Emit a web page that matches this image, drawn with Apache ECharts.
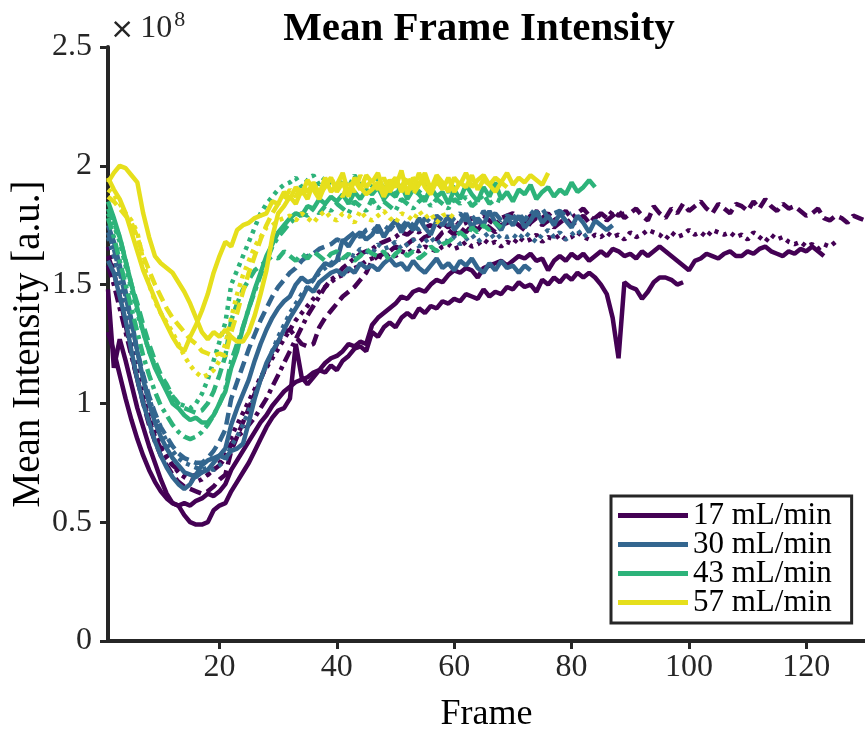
<!DOCTYPE html>
<html>
<head>
<meta charset="utf-8">
<script src="https://cdn.jsdelivr.net/npm/echarts@6/dist/echarts.min.js"></script>
<style>
html,body{margin:0;padding:0;background:#fff;}
#chart{width:865px;height:729px;}
</style>
</head>
<body>
<div id="chart"></div>
<script>
// ---------------- DATA (values in units of 1e8, frame = index + 1) ----------------
const legendNames = ['17 mL/min', '30 mL/min', '43 mL/min', '57 mL/min'];
const xTickValues = [20, 40, 60, 80, 100, 120];
const yTickValues = [0, 0.5, 1, 1.5, 2, 2.5];

// 17 mL/min
const p17_solidA = [1.48,1.15,1.27,1.18,1.08,0.98,0.90,0.82,0.75,0.68,
 0.62,0.58,0.57,0.53,0.50,0.49,0.49,0.50,0.55,0.57,
 0.58,0.63,0.67,0.71,0.75,0.80,0.85,0.90,0.94,
 0.97,0.98,1.02,1.25,1.11,1.08,1.11,1.14,1.13,1.16,
 1.14,1.18,1.20,1.23,1.24,1.22,1.30,1.28,1.32,
 1.34,1.32,1.36,1.38,1.36,1.40,1.38,1.41,1.40,1.43,
 1.42,1.44,1.43,1.46,1.45,1.44,1.48,1.45,1.47,1.46,
 1.49,1.48,1.51,1.49,1.50,1.47,1.52,1.50,1.53,
 1.51,1.54,1.52,1.55,1.53,1.55,1.53,1.50,1.46,1.36,
 1.19,1.51,1.49,1.48,1.44,1.47,1.51,1.53,1.53,
 1.52,1.50,1.51];
const p17_solidB = [1.30,1.22,1.12,1.02,0.93,0.85,0.78,0.72,0.67,0.63,
 0.60,0.58,0.57,0.58,0.57,0.59,0.60,0.62,0.61,0.63,
 0.66,0.72,0.76,0.80,0.84,0.88,0.92,0.95,0.99,
 1.02,1.05,1.07,1.09,1.10,1.11,1.13,1.14,1.17,1.19,
 1.20,1.22,1.25,1.24,1.26,1.25,1.33,1.36,1.38,
 1.40,1.42,1.45,1.44,1.47,1.48,1.47,1.50,1.52,1.51,
 1.54,1.56,1.55,1.57,1.56,1.53,1.57,1.58,1.59,1.60,
 1.58,1.60,1.62,1.61,1.63,1.60,1.61,1.56,1.60,
 1.62,1.60,1.63,1.61,1.63,1.60,1.62,1.64,1.62,1.65,
 1.64,1.62,1.63,1.61,1.64,1.62,1.64,1.66,1.64,
 1.62,1.60,1.58,1.56,1.60,1.61,1.63,1.62,1.61,1.63,
 1.64,1.62,1.62,1.64,1.63,1.65,1.66,1.64,1.63,1.62,
 1.64,1.63,1.65,1.64,1.66,1.64,1.62];
const p17_dashed = [1.62,1.55,1.45,1.33,1.21,1.10,1.00,0.91,0.84,0.78,
 0.74,0.70,0.67,0.65,0.64,0.63,0.62,0.63,0.65,0.68,
 0.70,0.80,0.86,0.92,0.98,1.04,1.10,1.16,1.21,
 1.26,1.30,1.31,1.28,1.25,1.24,1.25,1.32,1.36,1.39,
 1.42,1.45,1.47,1.49,1.52,1.55,1.60,1.62,1.63,
 1.64,1.66,1.65,1.67,1.69,1.68,1.70,1.71,1.69,1.72,
 1.73,1.71,1.74,1.72,1.75,1.73,1.76,1.74,1.72,1.75,
 1.76,1.77,1.75,1.73,1.76,1.78,1.75,1.77,1.74,
 1.76,1.78,1.75,1.77,1.79,1.76,1.78,1.80,1.77,1.79,
 1.81,1.78,1.80,1.82,1.79,1.77,1.83,1.80,1.78,
 1.82,1.80,1.84,1.81,1.83,1.85,1.82,1.80,1.84,1.82,
 1.80,1.84,1.83,1.81,1.85,1.82,1.86,1.83,1.81,1.84,
 1.82,1.83,1.81,1.79,1.80,1.82,1.78,1.77,1.79,
 1.78,1.76,1.79,1.78,1.77];
const p17_dotted = [1.66,1.58,1.48,1.37,1.26,1.15,1.05,0.97,0.89,0.83,
 0.78,0.74,0.71,0.69,0.68,0.67,0.68,0.70,0.72,0.75,
 0.78,0.86,0.91,0.96,1.01,1.06,1.11,1.15,1.19,
 1.23,1.27,1.31,1.35,1.38,1.41,1.44,1.47,1.49,1.51,
 1.53,1.54,1.56,1.57,1.58,1.60,1.61,1.62,1.61,
 1.63,1.62,1.64,1.63,1.65,1.64,1.66,1.65,1.64,1.66,
 1.67,1.65,1.66,1.68,1.66,1.67,1.69,1.67,1.68,1.66,
 1.68,1.67,1.70,1.68,1.69,1.71,1.68,1.70,1.69,
 1.71,1.69,1.70,1.72,1.70,1.69,1.71,1.70,1.72,1.70,
 1.71,1.69,1.72,1.70,1.71,1.73,1.72,1.71,1.69,
 1.72,1.70,1.71,1.73,1.71,1.72,1.70,1.73,1.72,1.71,
 1.72,1.70,1.71,1.69,1.72,1.70,1.68,1.71,1.69,1.70,
 1.68,1.67,1.68,1.66,1.67,1.65,1.67,1.66,1.68];
const p17_dashdot = [1.58,1.50,1.40,1.30,1.20,1.10,1.01,0.93,0.86,0.81,
 0.77,0.74,0.72,0.70,0.69,0.70,0.71,0.70,0.72,0.74,
 0.77,0.83,0.86,0.88,0.91,0.94,0.98,1.02,1.07,
 1.12,1.17,1.22,1.27,1.32,1.37,1.41,1.45,1.49,1.52,
 1.54,1.57,1.59,1.61,1.63,1.64,1.65,1.67,1.68,
 1.69,1.70,1.72,1.71,1.73,1.72,1.74,1.75,1.73,1.76,
 1.74,1.77,1.75,1.76,1.78,1.76,1.79,1.77,1.75,1.78,
 1.79,1.80,1.78,1.76,1.79,1.81,1.78,1.80,1.77,
 1.79,1.81,1.78,1.80,1.82,1.79,1.77,1.80,1.78,1.81,
 1.79,1.80];

// 30 mL/min
const b30_solidA = [1.60,1.55,1.45,1.35,1.22,1.10,1.00,0.92,0.84,0.78,
 0.73,0.69,0.66,0.64,0.66,0.70,0.74,0.76,0.77,0.78,
 0.77,0.80,0.81,0.83,0.92,1.02,1.10,1.17,1.22,
 1.26,1.31,1.36,1.40,1.44,1.49,1.47,1.51,1.53,1.55,
 1.56,1.54,1.57,1.55,1.59,1.57,1.58,1.56,1.59,
 1.61,1.58,1.59,1.56,1.60,1.57,1.55,1.58,1.61,1.57,
 1.59,1.56,1.60,1.58,1.61,1.57,1.55,1.59,1.56,1.60,
 1.57,1.58,1.55,1.58,1.56];
const b30_solidB = [1.75,1.68,1.58,1.47,1.35,1.22,1.10,1.00,0.92,0.86,
 0.81,0.77,0.74,0.71,0.70,0.69,0.71,0.72,0.75,0.78,
 0.81,0.91,0.98,1.04,1.10,1.18,1.25,1.31,1.36,
 1.40,1.43,1.45,1.50,1.53,1.51,1.52,1.56,1.59,1.58,
 1.60,1.69,1.66,1.70,1.72,1.69,1.71,1.75,1.70,
 1.74,1.77,1.72,1.76,1.73,1.78,1.74,1.71,1.77,1.75,
 1.79,1.73,1.76,1.80,1.74,1.78,1.75,1.81,1.76,1.73,
 1.78,1.75,1.79,1.74,1.77,1.81,1.76,1.79,1.75,
 1.80,1.77,1.74,1.79,1.76,1.72,1.77,1.75,1.73,1.75];
const b30_dotted = [1.70,1.62,1.52,1.42,1.32,1.20,1.10,1.02,0.95,0.89,
 0.84,0.80,0.77,0.75,0.74,0.73,0.72,0.73,0.72,0.74,
 0.76,0.82,0.86,0.91,0.97,1.03,1.10,1.16,1.22,
 1.28,1.33,1.38,1.42,1.46,1.49,1.52,1.55,1.57,1.59,
 1.61,1.60,1.63,1.62,1.65,1.64,1.63,1.67,1.65,
 1.66,1.68,1.65,1.67,1.69,1.66,1.68,1.70,1.67,1.69,
 1.68,1.70,1.67,1.69,1.71,1.68,1.70,1.72,1.69,1.71,
 1.70,1.71,1.69,1.72,1.70,1.68,1.71,1.73,1.70,
 1.72,1.69,1.71,1.73,1.70,1.72];
const b30_dashed = [1.72,1.65,1.55,1.45,1.34,1.22,1.12,1.03,0.96,0.90,
 0.86,0.82,0.79,0.77,0.76,0.75,0.75,0.77,0.80,0.84,
 0.89,1.02,1.09,1.16,1.23,1.29,1.35,1.40,1.45,
 1.49,1.52,1.55,1.57,1.60,1.62,1.63,1.65,1.66,1.67,
 1.69,1.68,1.70,1.72,1.70,1.73,1.74,1.72,1.75,
 1.73,1.76,1.74,1.77,1.75,1.73,1.78,1.76,1.79,1.77,
 1.75,1.78,1.80,1.77,1.79,1.76,1.81,1.78,1.80,1.77,
 1.79,1.78,1.80,1.77,1.81,1.79,1.82,1.78,1.80,
 1.81,1.79,1.80];

// 43 mL/min
const g43_solid = [1.85,1.78,1.70,1.60,1.50,1.40,1.30,1.22,1.15,1.10,
 1.05,1.00,0.98,0.95,0.93,0.94,0.92,0.92,0.95,1.00,
 1.05,1.15,1.22,1.32,1.40,1.48,1.55,1.62,1.67,
 1.72,1.75,1.78,1.80,1.79,1.83,1.82,1.86,1.84,1.87,
 1.85,1.88,1.84,1.89,1.86,1.90,1.88,1.91,1.86,
 1.89,1.87,1.92,1.86,1.90,1.88,1.85,1.91,1.87,1.89,
 1.84,1.90,1.86,1.92,1.88,1.85,1.91,1.87,1.93,1.86,
 1.89,1.85,1.90,1.88,1.92,1.86,1.89,1.91,1.87,
 1.90,1.88,1.93,1.89,1.91,1.94,1.91];
const g43_dashed = [1.82,1.76,1.70,1.60,1.50,1.42,1.33,1.25,1.18,1.12,
 1.08,1.03,1.00,0.98,0.97,0.96,0.97,1.00,1.05,1.12,
 1.20,1.35,1.42,1.48,1.52,1.56,1.58,1.60,1.62,
 1.61,1.64,1.62,1.60,1.63,1.61,1.64,1.62,1.60,1.63,
 1.64,1.61,1.63,1.60,1.62,1.65,1.63,1.62,1.64,
 1.60,1.63,1.65,1.62,1.64,1.61,1.63,1.66,1.64,1.67,
 1.68,1.70,1.72,1.70,1.74,1.72,1.75,1.73,1.76,1.74];
const g43_dotted = [1.80,1.75,1.68,1.58,1.48,1.38,1.30,1.22,1.16,1.10,
 1.06,1.03,1.00,0.99,0.98,1.00,1.04,1.10,1.18,1.26,
 1.34,1.50,1.56,1.62,1.68,1.74,1.80,1.84,1.87,
 1.90,1.92,1.93,1.95,1.91,1.94,1.96,1.92,1.95,1.93,
 1.90,1.94,1.91,1.96,1.92,1.89,1.91,1.95,1.90,
 1.93,1.88,1.92,1.90,1.94,1.89,1.92,1.90,1.87,1.91,
 1.89,1.92];
const g43_dashdot = [1.78,1.70,1.60,1.50,1.40,1.30,1.20,1.12,1.05,0.99,
 0.95,0.91,0.88,0.86,0.85,0.86,0.88,0.91,0.95,1.00,
 1.06,1.18,1.25,1.32,1.40,1.47,1.54,1.60,1.66,
 1.70,1.73,1.76,1.78,1.80,1.79,1.82,1.80,1.83,1.81,
 1.84,1.82,1.80,1.85,1.83,1.81,1.86,1.82,1.85,
 1.83,1.81,1.86,1.84,1.82,1.85,1.87,1.83,1.86,1.84,
 1.82,1.86,1.84,1.87,1.83,1.85,1.88,1.84,1.86,1.85];

// 57 mL/min
const y57_solidA = [1.93,1.97,2.00,1.99,1.96,1.93,1.80,1.70,1.62,1.59,
 1.57,1.55,1.51,1.47,1.42,1.36,1.30,1.27,1.30,1.28,
 1.31,1.28,1.26,1.26,1.30,1.37,1.46,1.56,1.70,
 1.80,1.83,1.87,1.84,1.90,1.86,1.93,1.88,1.95,1.89,
 1.92,1.97,1.88,1.94,1.90,1.96,1.93,1.97,1.89,
 1.94,1.91,1.98,1.88,1.95,1.92,1.97,1.90,1.96,1.93,
 1.89,1.95,1.92,1.97,1.91,1.94,1.96,1.92,1.95,1.93,
 1.97,1.92,1.95,1.93,1.96,1.94,1.92,1.97];
const y57_solidB = [1.95,1.90,1.86,1.80,1.72,1.64,1.56,1.50,1.44,1.38,
 1.33,1.28,1.24,1.22,1.28,1.33,1.39,1.46,1.55,1.62,
 1.68,1.66,1.73,1.75,1.76,1.78,1.79,1.80,1.85,
 1.84,1.89,1.86,1.91,1.88,1.94,1.90,1.86,1.92,1.95,
 1.89,1.93,1.87,1.95,1.91,1.88,1.90,1.93,1.87,
 1.92,1.95,1.89,1.94,1.90,1.97,1.91,1.88,1.94,1.90,
 1.95,1.89,1.93,1.91,1.96,1.90,1.94,1.92,1.89,1.93,
 1.91];
const y57_dotted = [1.90,1.88,1.84,1.80,1.77,1.72,1.60,1.50,1.43,1.38,
 1.34,1.30,1.25,1.20,1.16,1.13,1.11,1.12,1.14,1.18,
 1.25,1.36,1.46,1.54,1.60,1.66,1.70,1.74,1.75,
 1.77,1.78,1.79,1.77,1.80,1.78,1.76,1.79,1.81,1.78,
 1.77,1.80,1.79,1.76,1.81,1.78,1.77,1.79,1.81,
 1.78,1.76,1.80,1.79,1.77,1.81,1.78,1.80,1.76,1.79,
 1.80,1.78];
const y57_dashed = [1.87,1.85,1.82,1.79,1.76,1.70,1.62,1.56,1.50,1.45,
 1.40,1.36,1.33,1.30,1.27,1.25,1.22,1.21,1.20,1.21,
 1.20,1.30,1.38,1.47,1.55,1.62,1.69,1.75,1.80,
 1.84,1.86,1.90,1.87,1.92,1.89,1.93,1.88,1.91,1.95,
 1.90,1.87,1.93,1.89,1.96,1.91,1.94,1.90,1.95,
 1.89,1.93,1.91,1.96,1.88,1.92,1.95,1.90,1.93,1.91];

// ---------------- STYLE / ASSEMBLY ----------------
const DASH = { solid: 'solid', dashed: [12, 6], dotted: [4, 5], dashdot: [12, 5, 4, 5] };
const groups = [
  { name: legendNames[0], color: '#440154', lines: [[p17_solidA,'solid'],[p17_solidB,'solid'],[p17_dashed,'dashed'],[p17_dotted,'dotted'],[p17_dashdot,'dashdot']] },
  { name: legendNames[1], color: '#33668f', lines: [[b30_solidA,'solid'],[b30_solidB,'solid'],[b30_dotted,'dotted'],[b30_dashed,'dashed']] },
  { name: legendNames[2], color: '#2db37a', lines: [[g43_solid,'solid'],[g43_dashed,'dashed'],[g43_dotted,'dotted'],[g43_dashdot,'dashdot']] },
  { name: legendNames[3], color: '#e6df1c', lines: [[y57_solidA,'solid'],[y57_solidB,'solid'],[y57_dotted,'dotted'],[y57_dashed,'dashed']] }
];
const series = [];
groups.forEach(g => {
  g.lines.forEach(([vals, style]) => {
    series.push({
      type: 'line', name: g.name,
      data: vals.map((v, i) => [i + 1, v]),
      showSymbol: false, symbol: 'none',
      color: g.color,
      lineStyle: { color: g.color, width: 4.5, type: DASH[style] },
      emphasis: { disabled: true },
      silent: true
    });
  });
});

const FONT = '"Liberation Serif", "DejaVu Serif", serif';
const AX = '#262626';
const chart = echarts.init(document.getElementById('chart'), null, { renderer: 'canvas' });
chart.setOption({
  animation: false,
  backgroundColor: '#ffffff',
  title: {
    text: 'Mean Frame Intensity',
    left: 474, top: 4, textAlign: 'center',
    textStyle: { fontFamily: FONT, fontWeight: 'bold', fontSize: 41, color: '#000' }
  },
  grid: { left: 108, right: 0, top: 47, bottom: 88, containLabel: false, outerBoundsMode: 'none' },
  legend: {
    data: legendNames,
    orient: 'vertical',
    left: 611, top: 496,
    icon: 'rect', itemWidth: 70, itemHeight: 5, itemGap: -2,
    padding: [4, 20, 5, 7],
    backgroundColor: '#ffffff',
    borderColor: AX, borderWidth: 3, borderRadius: 0,
    selectedMode: false,
    textStyle: { fontFamily: FONT, fontSize: 31, color: '#000', lineHeight: 28 }
  },
  xAxis: {
    type: 'value', min: 1, max: 130,
    name: 'Frame', nameLocation: 'middle', nameGap: 56, nameMoveOverlap: false,
    nameTextStyle: { fontFamily: FONT, fontSize: 36, color: '#000' },
    axisLine: { show: true, onZero: false, lineStyle: { color: AX, width: 4 } },
    axisTick: { show: true, customValues: xTickValues, length: 8, inside: false, lineStyle: { color: AX, width: 3 } },
    axisLabel: { customValues: xTickValues, margin: 11, fontFamily: FONT, fontSize: 32, color: '#262626' },
    splitLine: { show: false }
  },
  yAxis: {
    type: 'value', min: 0, max: 2.5, interval: 0.5,
    name: 'Mean Intensity [a.u.]', nameLocation: 'middle', nameGap: 60, nameRotate: 90, nameMoveOverlap: false,
    nameTextStyle: { fontFamily: FONT, fontSize: 39, color: '#000' },
    axisLine: { show: true, onZero: false, lineStyle: { color: AX, width: 4 } },
    axisTick: { show: true, length: 8, inside: false, lineStyle: { color: AX, width: 3 } },
    axisLabel: { margin: 16, fontFamily: FONT, fontSize: 32, color: '#262626',
      formatter: v => (yTickValues.includes(v) ? String(v) : '') },
    splitLine: { show: false }
  },
  graphic: [{
    type: 'text', left: 110, top: 9, silent: true,
    style: {
      text: '{a|×}{b|10}{c|8}',
      rich: {
        a: { fontFamily: '"DejaVu Sans", sans-serif', fontSize: 29, fill: '#262626', verticalAlign: 'bottom', lineHeight: 36 },
        b: { fontFamily: FONT, fontSize: 32, fill: '#262626', padding: [0, 0, 0, 6], verticalAlign: 'bottom', lineHeight: 36 },
        c: { fontFamily: FONT, fontSize: 22, fill: '#262626', verticalAlign: 'top', lineHeight: 36, padding: [0, 0, 14, 2] }
      }
    }
  }],
  series: series
});
</script>
</body>
</html>
